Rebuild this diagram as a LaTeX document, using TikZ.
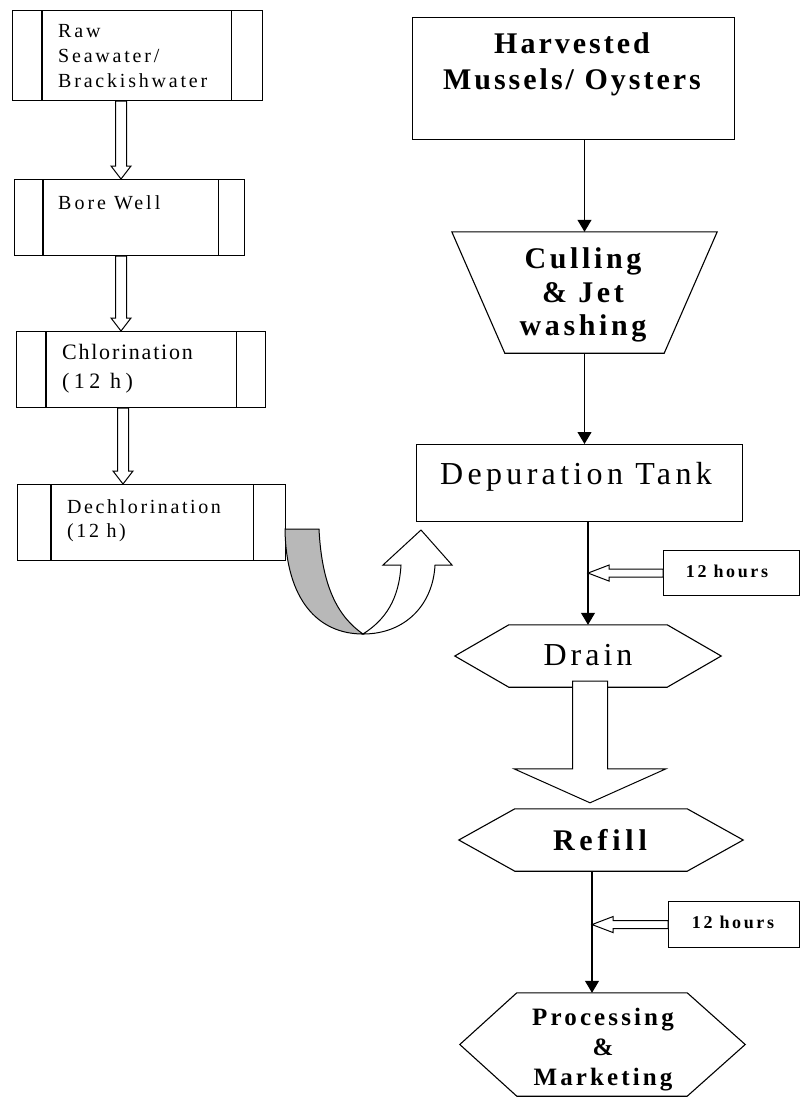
\documentclass[tikz,border=0pt]{standalone}
\usepackage{fontspec}
\setmainfont{Liberation Serif}
\usetikzlibrary{arrows.meta,calc}
\newcommand\ls[1]{\addfontfeatures{LetterSpace=#1}}
\newcommand\fs[2]{\fontsize{#1}{#2}\selectfont}
\newcommand\hollowdown[5]{%
  \draw[hollow] let \p1=(#1), \p2=(#2) in
    (\x1-#3pt,\y1) -- (\x1-#3pt,\y2+#5pt) -- (\x1-#4pt,\y2+#5pt) -- (\x1,\y2)
    -- (\x1+#4pt,\y2+#5pt) -- (\x1+#3pt,\y2+#5pt) -- (\x1+#3pt,\y1) -- cycle;}
\newcommand\hollowleft[5]{%
  \draw[hollow] let \p1=(#1), \p2=(#2) in
    (\x1,\y1+#3pt) -- (\x2+#5pt,\y1+#3pt) -- (\x2+#5pt,\y1+#4pt) -- (\x2,\y1)
    -- (\x2+#5pt,\y1-#4pt) -- (\x2+#5pt,\y1-#3pt) -- (\x1,\y1-#3pt) -- cycle;}
\begin{document}
\begin{tikzpicture}[x=1pt,y=-1pt,
  box/.style={draw, line width=1.1pt, rectangle, inner sep=0pt, anchor=north west},
  ghost/.style={inner sep=0pt, rectangle},
  txt/.style={inner sep=0pt, align=left, anchor=north west},
  ctxt/.style={inner sep=0pt, align=center, anchor=north},
  btxt/.style={inner sep=0pt, anchor=base},
  shp/.style={draw, line width=1.1pt, line join=miter},
  flow/.style={line width=1.1pt, -{Triangle[length=12pt,width=14pt]}},
  hollow/.style={draw, fill=white, line width=1pt, line join=miter},
  inner/.style={line width=1.1pt},
]
\useasboundingbox (0,0) rectangle (800,1098);

% ---------------- left column ----------------
\node[box, minimum width=250pt, minimum height=90pt] (b1) at (12,10) {};
\node[box, minimum width=230pt, minimum height=76pt] (b2) at (14,179) {};
\node[box, minimum width=249pt, minimum height=76pt] (b3) at (16,331) {};
\node[box, minimum width=268pt, minimum height=76pt] (b4) at (17,484) {};

\draw[inner] ($(b1.north west)+(30,0)$) -- ($(b1.south west)+(30,0)$);
\draw[inner] ($(b1.north east)+(-32,0)$) -- ($(b1.south east)+(-32,0)$);
\draw[inner] ($(b2.north west)+(29,0)$) -- ($(b2.south west)+(29,0)$);
\draw[inner] ($(b2.north east)+(-27,0)$) -- ($(b2.south east)+(-27,0)$);
\draw[inner] ($(b3.north west)+(30,0)$) -- ($(b3.south west)+(30,0)$);
\draw[inner] ($(b3.north east)+(-30,0)$) -- ($(b3.south east)+(-30,0)$);
\draw[inner] ($(b4.north west)+(34,0)$) -- ($(b4.south west)+(34,0)$);
\draw[inner] ($(b4.north east)+(-33,0)$) -- ($(b4.south east)+(-33,0)$);

\node[txt, font={\fs{20}{25}\ls{14}}] (t1) at (58,23.8) {Raw\\Seawater/\\Brackishwater};
\node[btxt, anchor=base west, font={\fs{20}{24}\ls{15}}] (t2) at (58,209) {Bore Well};
\node[txt, font={\fs{22}{29}\ls{8}}] (t3) at (62,344) {Chlorination\\\ls{20}(12 h)};
\node[txt, font={\fs{20}{24}\ls{13}}] (t4) at (67,499.3) {Dechlorination\\(12 h)};

\coordinate (a1s) at ($(b1.south west)+(109,0)$);
\coordinate (a1e) at (a1s |- b2.north);
\coordinate (a2s) at ($(b2.south west)+(107,0)$);
\coordinate (a2e) at (a2s |- b3.north);
\coordinate (a3s) at ($(b3.south west)+(107,0)$);
\coordinate (a3e) at (a3s |- b4.north);
\hollowdown{a1s}{a1e}{5.5}{10}{13}
\hollowdown{a2s}{a2e}{5.5}{10}{13}
\hollowdown{a3s}{a3e}{5.5}{10}{13}

% U-turn arrow
\draw[line width=1pt, fill=black!28, line join=miter]
  (285,529) -- (319,529) .. controls (322,590) and (340,618) .. (363,634)
  .. controls (318,634) and (286,600) .. (285,529) -- cycle;
\draw[hollow]
  (363,634) .. controls (405,634) and (433,605) .. (435,565)
  -- (452,565) -- (421,530) -- (383,565) -- (401,565)
  .. controls (399,600) and (385,620) .. (363,634) -- cycle;

% ---------------- right column ----------------
\node[box, minimum width=322pt, minimum height=122pt] (harv) at (412,17) {};
\node[ctxt, font={\fs{30}{36}\bfseries\ls{10}}] (harvt) at (572,32.7) {Harvested\\Mussels/ Oysters};

\node[ghost, minimum width=265pt, minimum height=121pt] (cull) at (584.5,292.5) {};
\draw[shp] (cull.north west) -- (cull.north east) -- ($(cull.south east)+(-53,0)$)
  -- ($(cull.south west)+(53,0)$) -- cycle;
\node[ctxt, font={\fs{30}{33.5}\bfseries\ls{12}}] (cullt) at (583,247.7) {Culling\\\& Jet\\washing};

\node[box, minimum width=326pt, minimum height=77pt] (dep) at (416,444) {};
\node[btxt, font={\fs{32}{36}\ls{13.5}}] (dept) at (576,484) {Depuration Tank};

\node[ghost, minimum width=158pt, minimum height=62pt] (drain) at (588,656) {};
\draw[shp] (drain.north west) -- (drain.north east) -- ($(drain.east)+(54,0)$)
  -- (drain.south east) -- (drain.south west) -- ($(drain.west)+(-54,0)$) -- cycle;
\node[btxt, font={\fs{32}{36}\ls{12.5}}] (draint) at (588,665) {Drain};

\node[ghost, minimum width=172pt, minimum height=62pt] (refill) at (601,840) {};
\draw[shp] (refill.north west) -- (refill.north east) -- ($(refill.east)+(56,0)$)
  -- (refill.south east) -- (refill.south west) -- ($(refill.west)+(-56,0)$) -- cycle;
\node[btxt, font={\fs{30}{36}\bfseries\ls{16}}] (refillt) at (600,850) {Refill};

\node[ghost, minimum width=170pt, minimum height=103pt] (proc) at (602,1044.5) {};
\draw[shp] (proc.north west) -- (proc.north east) -- ($(proc.east)+(58,0)$)
  -- (proc.south east) -- (proc.south west) -- ($(proc.west)+(-57,0)$) -- cycle;
\node[ctxt, font={\fs{25}{30}\bfseries\ls{12.5}}] (proct) at (603,1007.7) {Processing\\\&\\Marketing};

\node[box, minimum width=136pt, minimum height=45pt] (tw1) at (663,550) {};
\node[btxt, font={\fs{18}{20}\bfseries\ls{14.5}}] (tw1t) at (727,577) {12 hours};
\node[box, minimum width=131pt, minimum height=46pt] (tw2) at (668,901) {};
\node[btxt, font={\fs{18}{20}\bfseries\ls{14.5}}] (tw2t) at (733,928) {12 hours};

% connectors
\draw[flow] (harv.south -| cull.north) -- (cull.north);
\draw[flow] (cull.south) -- (cull.south |- dep.north);
\draw[flow] (dep.south -| drain.north) -- (drain.north);
\coordinate (rp) at ($(refill.south)+(-9,0)$);
\draw[flow] (rp) -- (rp |- proc.north);

\coordinate (h1e) at (tw1.west -| drain.north);
\hollowleft{tw1.west}{h1e}{4}{8}{21}
\coordinate (h2e) at (tw2.west -| rp);
\hollowleft{tw2.west}{h2e}{4}{8}{21}

\coordinate (bigS) at ($(drain.south)+(2,-6)$);
\coordinate (bigE) at ($(bigS |- refill.north)+(0,-6)$);
\hollowdown{bigS}{bigE}{17.5}{76}{34}
\end{tikzpicture}
\end{document}
